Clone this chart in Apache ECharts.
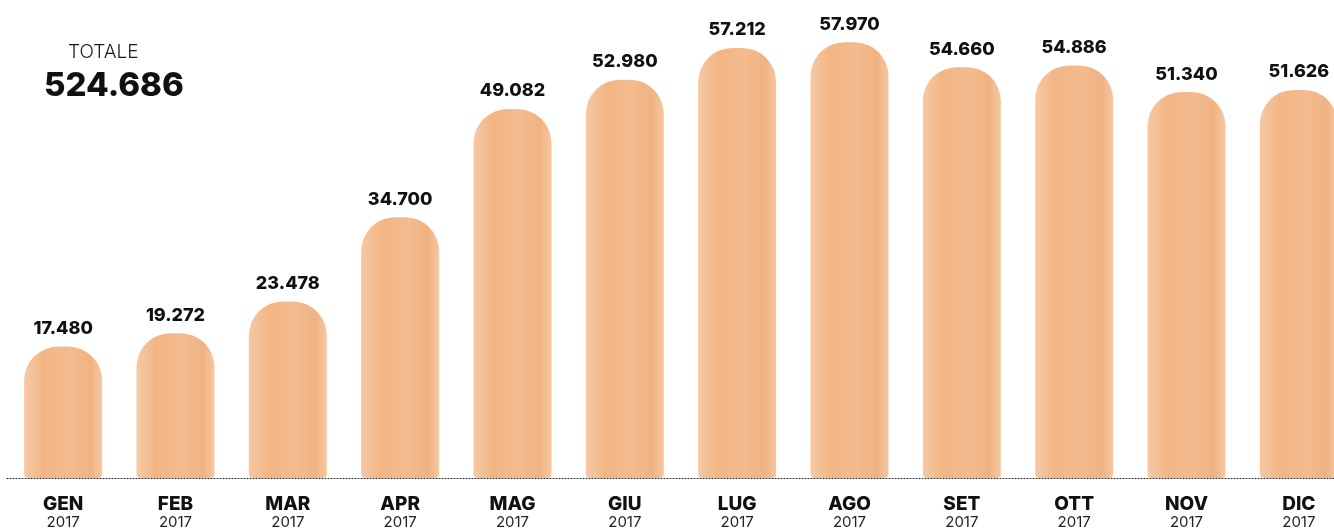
<!DOCTYPE html>
<html>
<head>
<meta charset="utf-8">
<style>
  html, body { margin: 0; padding: 0; background: #ffffff; overflow: hidden; width: 1334px; height: 530px; }
  /* the last column runs past the right edge of the page */
  #chart { width: 1360px; height: 530px; }
</style>
<script src="https://cdn.jsdelivr.net/npm/echarts@6/dist/echarts.min.js"></script>
</head>
<body>
<div id="chart"></div>
<script>
// Monthly figures, 2017
const months = ['GEN', 'FEB', 'MAR', 'APR', 'MAG', 'GIU', 'LUG', 'AGO', 'SET', 'OTT', 'NOV', 'DIC'];
const year = '2017';
const values = [17480, 19272, 23478, 34700, 49082, 52980, 57212, 57970, 54660, 54886, 51340, 51626];

// Italian-style thousands separator (17.480)
function fmt(n) {
  return String(n).replace(/\B(?=(\d{3})+(?!\d))/g, '.');
}

const total = values.reduce((a, b) => a + b, 0);
const FONT = 'Inter, "Open Sans", sans-serif';

const chart = echarts.init(document.getElementById('chart'), null, { renderer: 'canvas' });

chart.setOption({
  animation: false,
  backgroundColor: '#ffffff',
  grid: { left: 7, top: 27, right: 5, bottom: 52, containLabel: false },
  graphic: [
    {
      type: 'text', left: 68, top: 43,
      style: { text: 'TOTALE', font: '300 19px ' + FONT, fill: '#1a1a1a' }
    },
    {
      type: 'text', left: 44, top: 70,
      style: { text: fmt(total), font: '800 33px ' + FONT, fill: '#111111' }
    }
  ],
  xAxis: {
    type: 'category',
    data: months,
    axisTick: { show: false },
    axisLine: { show: true, lineStyle: { color: '#222', type: [1, 2], width: 1 } },
    axisLabel: {
      interval: 0,
      margin: 16,
      formatter: v => '{m|' + v + '}\n{y|' + year + '}',
      rich: {
        m: { fontFamily: FONT, fontWeight: 800, fontSize: 19, color: '#111', lineHeight: 20 },
        y: { fontFamily: FONT, fontWeight: 400, fontSize: 15, color: '#222', lineHeight: 17 }
      }
    }
  },
  yAxis: {
    type: 'value',
    min: 0,
    max: 60000,
    show: false,
    splitLine: { show: false }
  },
  series: [{
    type: 'bar',
    data: values,
    barWidth: 78,
    itemStyle: {
      borderRadius: [34, 34, 4, 4],
      color: {
        type: 'linear', x: 0, y: 0, x2: 1, y2: 0,
        colorStops: [
          { offset: 0, color: '#f6c9a3' },
          { offset: 0.25, color: '#f2b686' },
          { offset: 0.6, color: '#f3bb8e' },
          { offset: 0.85, color: '#f0b283' },
          { offset: 1, color: '#f6c7a1' }
        ]
      }
    },
    label: {
      show: true,
      position: 'top',
      distance: 9,
      formatter: p => fmt(p.value),
      fontFamily: FONT,
      fontWeight: 800,
      fontSize: 18,
      color: '#111'
    }
  }]
});
</script>
</body>
</html>
